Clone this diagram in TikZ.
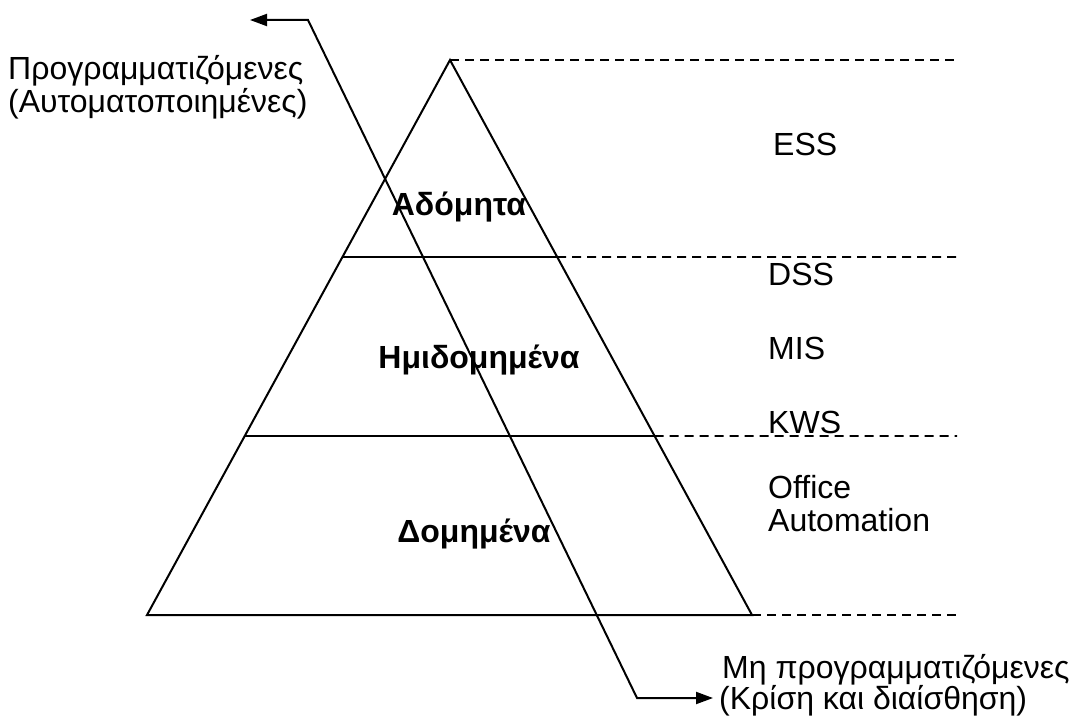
\documentclass[tikz,border=0pt]{standalone}
\usepackage{fontspec}
\setmainfont{Liberation Sans}
\usetikzlibrary{arrows.meta,calc}
\begin{document}
\begin{tikzpicture}[x=1pt,y=-1pt,
  edge/.style={line width=2pt, line join=miter},
  guide/.style={line width=1.7pt, dash pattern=on 9pt off 6pt},
  lbl/.style={anchor=base west, inner sep=0pt, font=\fontsize{32}{36}\selectfont},
  band/.style={anchor=base, inner sep=0pt, font=\fontsize{32}{36}\selectfont\bfseries},
  flow/.style={line width=2pt, {Triangle[length=17pt,width=12pt]}-{Triangle[length=17pt,width=12pt]}}]
\useasboundingbox (0,0) rectangle (1080,717);

% pyramid corners
\coordinate (apex) at (450,60);
\coordinate (bl) at (147,615);
\coordinate (br) at (752,615);
% level boundaries on the sides
\coordinate (l1) at ($(apex)!0.355!(bl)$);
\coordinate (r1) at ($(apex)!0.355!(br)$);
\coordinate (l2) at ($(apex)!0.6775!(bl)$);
\coordinate (r2) at ($(apex)!0.6775!(br)$);
% right ends of the guide lines
\coordinate (g0) at (957,60);
\coordinate (g1) at (957,257);
\coordinate (g2) at (957,436);
\coordinate (g3) at (957,615);

\draw[edge] (apex) -- (bl) -- (br) -- cycle;
\draw[edge] (l1) -- (r1);
\draw[edge] (l2) -- (r2);

\draw[guide] (apex) -- (g0);
\draw[guide] (r1) -- (g1);
\draw[guide] (r2) -- (g2);
\draw[guide] (br) -- (g3);

% two-way scale of decisions
\coordinate (tipA) at (250,20);
\coordinate (c1) at (308,20);
\coordinate (c2) at (637,698);
\coordinate (tipB) at (713,698);
\draw[flow] (tipA) -- (c1) -- (c2) -- (tipB);

% level names
\node[band] (adom) at (459,215) {Αδόμητα};
\node[band] (imid) at (479,368) {Ημιδομημένα};
\node[band] (dom) at (474,542) {Δομημένα};

% systems
\node[lbl] (ess) at (773,155) {ESS};
\node[lbl] (dss) at (768,285) {DSS};
\node[lbl] (mis) at (768,359) {MIS};
\node[lbl] (kws) at (768,433) {KWS};
\node[lbl] (off1) at (768,498) {Office};
\node[lbl] (off2) at (768,531) {Automation};

% ends of the scale
\node[lbl] (prog1) at (8,80) {Προγραμματιζόμενες};
\node[lbl] (prog2) at (8,113) {(Αυτοματοποιημένες)};
\node[lbl] (nprog1) at (722,678) {Μη προγραμματιζόμενες};
\node[lbl] (nprog2) at (719,709) {(Κρίση και διαίσθηση)};
\end{tikzpicture}
\end{document}
